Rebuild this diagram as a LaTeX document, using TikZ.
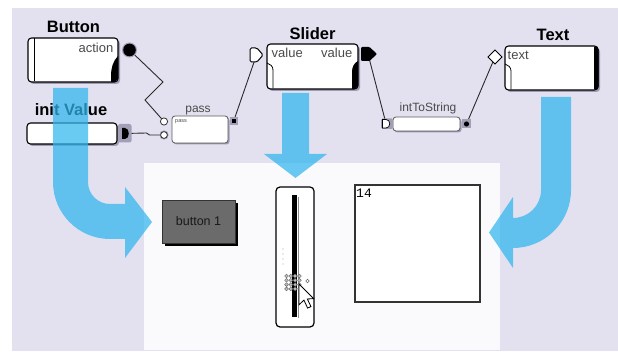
\documentclass[tikz,border=0pt]{standalone}
\usepackage{fontspec}
\setmainfont{Liberation Sans}
\newfontfamily\monofont{Liberation Mono}
\usetikzlibrary{shadows}
\definecolor{lav}{HTML}{E3E1EF}
\definecolor{panelc}{HTML}{FAFAFC}
\definecolor{flowblue}{HTML}{30B6EE}
\definecolor{shadowc}{HTML}{9E9CB4}
\definecolor{labgray}{HTML}{4A4A4A}
\definecolor{wirec}{HTML}{2A2A2A}
\definecolor{btngray}{HTML}{6B6B6B}
\definecolor{halo}{HTML}{A2A0B6}
\begin{document}
\begin{tikzpicture}[x=1pt,y=-1pt,
  title/.style={font=\fontsize{16.5}{18}\selectfont\bfseries, text=black, inner sep=0pt, anchor=base},
  smalltitle/.style={font=\fontsize{12}{14}\selectfont, text=labgray, inner sep=0pt, anchor=base},
  lab/.style={font=\fontsize{13}{15}\selectfont, text=labgray, inner sep=0pt, anchor=base},
  box/.style={draw=black, line width=1.1pt, fill=white, rounded corners=3.5pt,
    inner sep=0pt, drop shadow={shadow xshift=2pt, shadow yshift=-2pt, fill=shadowc, opacity=1}},
  thinbox/.style={draw=black!65, line width=0.8pt, fill=white, rounded corners=3pt,
    inner sep=0pt, drop shadow={shadow xshift=1.5pt, shadow yshift=-1.5pt, fill=shadowc, opacity=1}},
  wire/.style={draw=wirec, line width=0.9pt},
  flow/.style={fill=flowblue, fill opacity=0.72},
  portw/.style={draw=black, line width=0.8pt, fill=white},
]
\useasboundingbox (0,0) rectangle (618,352);
\fill[white] (0,0) rectangle (618,352);
\fill[lav] (12,8) rectangle (618,351);
\fill[panelc] (144,163) rectangle (500,350);

% ---------- component boxes ----------
\node[box, minimum width=90pt, minimum height=44pt] (button) at (73,60) {};
\node[box, minimum width=90pt, minimum height=21pt] (initbox) at (72,133.5) {};
\node[thinbox, minimum width=56pt, minimum height=27pt] (passbox) at (200,129.5) {};
\node[box, minimum width=91pt, minimum height=45pt] (slider) at (312.5,66.5) {};
\node[thinbox, minimum width=67pt, minimum height=14pt] (itsbox) at (426.5,124) {};
\node[box, minimum width=93pt, minimum height=44pt] (textbox) at (551.5,68) {};

% box decorations
\draw[line width=0.8pt] (34,38.5) -- (34,81.5);
\fill (118,56) .. controls (113,61) and (111,68) .. (111,76) -- (111,82) -- (115,82) -- (118,79) -- cycle;
\draw[line width=0.8pt] (267,63) .. controls (270,64) and (273,66) .. (273,70) -- (273,88.5);
\fill (358,61) .. controls (354,63) and (352,67) .. (352,72) -- (352,89) -- (355,89) -- (358,86) -- cycle;
\draw[line width=0.8pt] (505,64) .. controls (508,65) and (511,67) .. (511,71) -- (511,89.5);
\fill (594,46.6) -- (595.5,46.6) .. controls (597.5,46.6) and (598.5,47.6) .. (598.5,49.6)
  -- (598.5,87) .. controls (598.5,89) and (597.5,89.5) .. (595.5,89.5) -- (594,89.5) -- cycle;

% titles and labels
\node[title] (tButton) at (73.5,33) {Button};
\node[title] (tInit) at (71,116) {init Value};
\node[smalltitle] (tPass) at (198,112.5) {pass};
\node[title] (tSlider) at (312.5,40) {Slider};
\node[smalltitle] (tIts) at (428,112) {intToString};
\node[title] (tText) at (553,40.5) {Text};
\node[lab, anchor=base east] (lAction) at (113.5,53) {action};
\node[lab, anchor=base west] (lValIn) at (271.5,58) {value};
\node[lab, anchor=base east] (lValOut) at (352.5,58) {value};
\node[lab, anchor=base west] (lText) at (507.5,60) {text};
\node[font=\fontsize{5.5}{6}\selectfont, text=labgray, inner sep=0pt, anchor=base west] (lPass) at (175,123) {pass};

% ---------- ports ----------
\coordinate (actionPort) at (129.5,50);
\coordinate (initPort) at (124.5,133.5);
\coordinate (passIn1) at (164,121.5);
\coordinate (passIn2) at (164,135);
\coordinate (passOut) at (233.5,121.5);
\coordinate (sliderIn) at (256.5,55);
\coordinate (sliderOut) at (368,54);
\coordinate (itsIn) at (386,123.5);
\coordinate (itsOut) at (466.5,124);
\coordinate (textIn) at (495,57);
\coordinate (zA) at (163,82);
\coordinate (zB) at (145,100);
\coordinate (kA) at (146.5,133);
\coordinate (kB) at (149.5,135);

% connectors
\draw[wire] (actionPort) -- (zA) -- (zB) -- (passIn1);
\draw[wire] (initPort) -- (kA) -- (kB) -- (passIn2);
\draw[wire] (passOut) -- (sliderIn);
\draw[wire] (sliderOut) -- (itsIn);
\draw[wire] (itsOut) -- (textIn);

% port glyphs
\fill[halo] (actionPort) circle (7.5);
\fill (actionPort) circle (6.3);
\fill[halo, rounded corners=2pt] (118,124) rectangle (131.5,142.5);
\fill (122,128) -- (125,128) .. controls (130,128) and (130,139) .. (125,139) -- (122,139) -- cycle;
\draw[portw, draw=black!80] (passIn1) circle (3.6);
\fill[halo] (passIn2) circle (4.6);
\draw[portw, draw=black!80] (passIn2) circle (3.4);
\fill[halo] (229.5,117.5) rectangle (237.5,125.5);
\fill (231.5,119.5) rectangle (235.5,123.5);
\draw[portw, line width=1pt, rounded corners=1.5pt] (250,48) -- (257,48) -- (263,55) -- (257,62) -- (250,62) -- cycle;
\fill[rounded corners=1pt] (361,47) -- (369.5,47) -- (377,54) -- (369.5,61) -- (361,61) -- cycle;
\fill[halo, rounded corners=1.5pt] (381,118.5) rectangle (393,129);
\draw[portw, line width=0.7pt] (382.5,119.5) -- (386,119.5) .. controls (391,119.5) and (391,128) .. (386,128) -- (382.5,128) -- cycle;
\fill[halo] (462,119.5) rectangle (471,128.5);
\fill (itsOut) circle (2.6);
\draw[portw, line width=1pt] (495,50) -- (502,57) -- (495,64) -- (488,57) -- cycle;

% ---------- running widgets ----------
\node[draw=black!80, fill=btngray, minimum width=73pt, minimum height=43pt, inner sep=0pt,
  font=\fontsize{12.5}{14}\selectfont, text=black!90,
  drop shadow={shadow xshift=3pt, shadow yshift=-3pt, fill=black, opacity=1}] (btn) at (198.5,221.5) {button 1};

\node[draw=black, line width=1.2pt, fill=white, rounded corners=4pt, minimum width=38pt,
  minimum height=140pt, inner sep=0pt] (sw) at (295,257) {};
\fill (292,195) rectangle (297,317);
\draw[black!45, line width=0.8pt] (298.6,197) -- (298.6,318);
\foreach \yy in {249,254,259,264} \fill[black!35] (283,\yy) circle (0.7);
\foreach \xx in {286.5,290.8,295.1,299.4} \foreach \yy in {276,280.3,284.6,288.9}
  \draw[black!60, fill=black!25, line width=0.4pt] (\xx,\yy) circle (1.9);
\draw[black!60, fill=white, line width=0.5pt] (307.5,281) circle (1.8);
\draw[fill=white, line width=0.8pt, shift={(299,284)}, scale=1.3]
  (0,0) -- (0,16) -- (3.8,12.4) -- (6.6,18.5) -- (9.2,17.4) -- (6.4,11.5) -- (11.3,11.3) -- cycle;

\node[draw=black!80, line width=1.1pt, fill=white, minimum width=125pt, minimum height=117pt,
  inner sep=0pt] (tw) at (417.5,243.5) {};
\node[font=\monofont\fontsize{13}{14}\selectfont, inner sep=0pt, anchor=north west] (num) at (356,188.5) {14};

% ---------- flow arrows ----------
\path[flow] (53,88) -- (88,88) -- (88,182) .. controls (88,194.2) and (97.8,204) .. (110,204)
  -- (125,204) -- (125,187) -- (152,222) -- (125,258) -- (125,239) -- (110,239)
  .. controls (78.5,239) and (53,213.5) .. (53,182) -- cycle;
\path[flow] (282,93) -- (309,93) -- (309,154) -- (327,154) -- (295.5,178) -- (264,154) -- (282,154) -- cycle;
\path[flow] (541,97) -- (571,97) -- (571,190) .. controls (571,222) and (545,248) .. (513,248)
  -- (513,268) -- (489,232.5) -- (513,197) -- (513,218)
  .. controls (528.5,218) and (541,205.5) .. (541,190) -- cycle;
\end{tikzpicture}
\end{document}
